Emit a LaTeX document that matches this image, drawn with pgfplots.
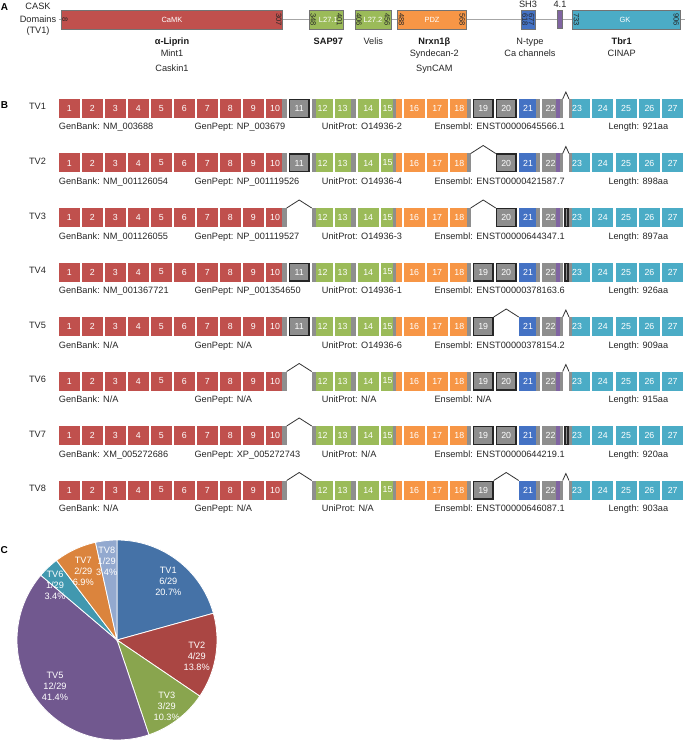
\documentclass[border=0pt]{standalone}
\usepackage{pgfplots}
\pgfplotsset{compat=1.18}
\usepackage{fontspec}
\setmainfont{Liberation Sans}
\definecolor{cred}{HTML}{C0504D}
\definecolor{cgray}{HTML}{8E8E8E}
\definecolor{cgreen}{HTML}{9BBB59}
\definecolor{corange}{HTML}{F79646}
\definecolor{cblue}{HTML}{4472C4}
\definecolor{cpurple}{HTML}{8064A2}
\definecolor{ccyan}{HTML}{4BACC6}
\definecolor{p1}{HTML}{4572A7}
\definecolor{p2}{HTML}{AA4643}
\definecolor{p3}{HTML}{89A54E}
\definecolor{p5}{HTML}{71588F}
\definecolor{p6}{HTML}{4198AF}
\definecolor{p7}{HTML}{DB843D}
\definecolor{p8}{HTML}{93A9CF}
\tikzset{
 lab/.style={font=\fontsize{9.2}{11}\selectfont, inner sep=0pt, text=black!85},
 blab/.style={font=\fontsize{9.2}{11}\selectfont\bfseries, inner sep=0pt, text=black!90},
 exn/.style={font=\fontsize{8.8}{9}\selectfont, inner sep=0pt, text=white},
 dom/.style={font=\fontsize{7.5}{8}\selectfont, inner sep=0pt, text=white},
 rot/.style={font=\fontsize{7.6}{8}\selectfont, inner sep=0pt, rotate=-90, text=black!85},
 pl/.style={font=\fontsize{9.2}{11}\selectfont, inner sep=0pt, text=white, align=center},
 panel/.style={font=\fontsize{10}{11}\selectfont\bfseries, inner sep=0pt},
}
% exon box: x-left, y-centre, colour
\newcommand\ex[3]{%
 \pgfmathsetmacro\xr{#1+21}\pgfmathsetmacro\yt{#2-9.5}\pgfmathsetmacro\yb{#2+9.5}%
 \addplot[fill=#3,draw=none] coordinates {(#1,\yt) (\xr,\yt) (\xr,\yb) (#1,\yb)};}
% strip: x1, x2, y-centre, colour
\newcommand\st[4]{%
 \pgfmathsetmacro\yt{#3-9.5}\pgfmathsetmacro\yb{#3+9.5}%
 \addplot[fill=#4,draw=none] coordinates {(#1,\yt) (#2,\yt) (#2,\yb) (#1,\yb)};}
% boxed exon: x1, x2, y-centre, number
\newcommand\bex[4]{%
 \pgfmathsetmacro\xa{#1+0.65}\pgfmathsetmacro\xb{#2-0.65}\pgfmathsetmacro\yt{#3-8.85}\pgfmathsetmacro\yb{#3+8.85}\pgfmathsetmacro\xc{(#1+#2)/2}%
 \addplot[fill=cgray,draw=black!85,line width=1.3pt] coordinates {(\xa,\yt) (\xb,\yt) (\xb,\yb) (\xa,\yb)} -- cycle;%
 \edef\tmp{\noexpand\node[exn] at (axis cs:\xc,#3) {#4};}\tmp}
% splice caret: x1, x2, y-centre, height
\newcommand\caret[4]{%
 \pgfmathsetmacro\yt{#3-9.5}\pgfmathsetmacro\yp{#3-9.5-#4}\pgfmathsetmacro\xm{(#1+#2)/2}%
 \addplot[draw=black!80,line width=0.8pt] coordinates {(#1,\yt) (\xm,\yp) (#2,\yt)};}
% domain box in panel A
\newcommand\dbox[5]{%
 \addplot[fill=#5,draw=black!55,line width=0.5pt] coordinates {(#1,#3) (#2,#3) (#2,#4) (#1,#4)} -- cycle;}
\newcommand\commonrow[1]{%
\ex{58.7}{#1}{cred}\ex{81.7}{#1}{cred}\ex{104.7}{#1}{cred}%
\ex{127.7}{#1}{cred}\ex{150.7}{#1}{cred}\ex{173.7}{#1}{cred}%
\ex{196.7}{#1}{cred}\ex{219.7}{#1}{cred}\ex{242.7}{#1}{cred}%
\ex{265.7}{#1}{cred}\st{281.7}{286.7}{#1}{cgray}%
\ex{311.7}{#1}{cgreen}\st{311.7}{316}{#1}{cgray}%
\ex{334.7}{#1}{cgreen}\st{351.2}{355.7}{#1}{cgray}%
\ex{357.7}{#1}{cgreen}%
\ex{380.7}{#1}{cgreen}\st{393.3}{396.3}{#1}{cgray}\st{396.3}{401.7}{#1}{corange}%
\ex{403.7}{#1}{corange}\ex{426.7}{#1}{corange}%
\ex{449.7}{#1}{corange}\st{466.7}{470.7}{#1}{cgray}%
\ex{518.7}{#1}{cblue}\st{535.7}{539.7}{#1}{cgray}%
\ex{541.7}{#1}{cgray}\st{556.2}{559.5}{#1}{cpurple}%
\ex{569}{#1}{ccyan}\st{569}{572}{#1}{cgray}%
\ex{592.3}{#1}{ccyan}\ex{615.6}{#1}{ccyan}%
\ex{638.9}{#1}{ccyan}\ex{662.2}{#1}{ccyan}%
\node[exn] at (axis cs:69.2,#1) {1};\node[exn] at (axis cs:92.2,#1) {2};%
\node[exn] at (axis cs:115.2,#1) {3};\node[exn] at (axis cs:138.2,#1) {4};%
\node[exn] at (axis cs:161.2,#1) {5};\node[exn] at (axis cs:184.2,#1) {6};%
\node[exn] at (axis cs:207.2,#1) {7};\node[exn] at (axis cs:230.2,#1) {8};%
\node[exn] at (axis cs:253.2,#1) {9};\node[exn] at (axis cs:275,#1) {10};%
\node[exn] at (axis cs:322.5,#1) {12};\node[exn] at (axis cs:342.5,#1) {13};%
\node[exn] at (axis cs:368.2,#1) {14};\node[exn] at (axis cs:387.5,#1) {15};%
\node[exn] at (axis cs:414.2,#1) {16};\node[exn] at (axis cs:437.2,#1) {17};%
\node[exn] at (axis cs:459.3,#1) {18};\node[exn] at (axis cs:528,#1) {21};%
\node[exn] at (axis cs:550.5,#1) {22};\node[exn] at (axis cs:577,#1) {23};%
\node[exn] at (axis cs:602.8,#1) {24};\node[exn] at (axis cs:626.1,#1) {25};%
\node[exn] at (axis cs:649.4,#1) {26};\node[exn] at (axis cs:672.7,#1) {27};}
\begin{document}
\begin{tikzpicture}
\begin{axis}[width=685pt,height=746pt,scale only axis,
 xmin=0,xmax=685,ymin=0,ymax=746,y dir=reverse,hide axis,clip=false]
\addplot[draw=none] coordinates {(0,0) (685,746)};
% ---------------- Panel A
\node[panel,anchor=base west] at (axis cs:0.8,10.5) {A};
\node[lab,anchor=base] at (axis cs:38,9.8) {CASK};
\node[lab,anchor=base] at (axis cs:38,22.2) {Domains};
\node[lab,anchor=base] at (axis cs:38,34) {(TV1)};
\addplot[draw=black!35,line width=1.3pt] coordinates {(58.5,19.5) (685,19.5)};
\dbox{61}{282.7}{10}{29}{cred}
\dbox{309.3}{343.3}{10}{29}{cgreen}
\dbox{355}{391}{10}{29}{cgreen}
\dbox{397.7}{466}{10}{29}{corange}
\dbox{521}{535.3}{10}{29}{cblue}
\dbox{557.3}{562.3}{10.5}{28.5}{cpurple}
\dbox{572.7}{680}{10}{29}{ccyan}
\node[dom] at (axis cs:172,19.5) {CaMK};
\node[dom] at (axis cs:328.3,19.5) {L27.1};
\node[dom] at (axis cs:373,19.5) {L27.2};
\node[dom] at (axis cs:432,19.5) {PDZ};
\node[dom] at (axis cs:625,19.5) {GK};
\node[rot] at (axis cs:65,19.5) {8};
\node[rot] at (axis cs:278.8,19.5) {307};
\node[rot] at (axis cs:313.2,19.5) {348};
\node[rot] at (axis cs:339.6,19.5) {401};
\node[rot] at (axis cs:358.9,19.5) {406};
\node[rot] at (axis cs:387.2,19.5) {456};
\node[rot] at (axis cs:401.6,19.5) {488};
\node[rot] at (axis cs:462.2,19.5) {568};
\node[rot] at (axis cs:524.9,19.5) {618};
\node[rot] at (axis cs:531.5,19.5) {677};
\node[rot] at (axis cs:576.6,19.5) {733};
\node[rot] at (axis cs:676.2,19.5) {906};
\node[lab,anchor=base] at (axis cs:528,7.6) {SH3};
\node[lab,anchor=base] at (axis cs:560,7.6) {4.1};
\node[blab,anchor=base] at (axis cs:172,44.5) {α-Liprin};
\node[lab,anchor=base] at (axis cs:172,56.8) {Mint1};
\node[lab,anchor=base] at (axis cs:172,71.6) {Caskin1};
\node[blab,anchor=base] at (axis cs:328.3,44.5) {SAP97};
\node[lab,anchor=base] at (axis cs:373.3,44.5) {Velis};
\node[blab,anchor=base] at (axis cs:434.3,44.5) {Nrxn1β};
\node[lab,anchor=base] at (axis cs:434.3,56.8) {Syndecan-2};
\node[lab,anchor=base] at (axis cs:434.3,71.6) {SynCAM};
\node[lab,anchor=base] at (axis cs:530,44.5) {N-type};
\node[lab,anchor=base] at (axis cs:530,56.8) {Ca channels};
\node[blab,anchor=base] at (axis cs:621.7,44.5) {Tbr1};
\node[lab,anchor=base] at (axis cs:621.7,56.8) {CINAP};
% ---------------- Panel B
\node[panel,anchor=base west] at (axis cs:0.8,109) {B};
% TV1
\commonrow{108.5}
\bex{288.7}{309.7}{108.5}{11}\bex{472.7}{493.7}{108.5}{19}\bex{495.7}{516.7}{108.5}{20}
\caret{562.7}{569}{108.5}{7}
% TV2
\commonrow{163}
\bex{288.7}{309.7}{163}{11}\caret{470.7}{495.7}{163}{8}\bex{495.7}{516.7}{163}{20}
\caret{562.7}{569}{163}{7}
% TV3
\commonrow{217.5}
\caret{286.7}{311.7}{217.5}{8}\caret{470.7}{495.7}{217.5}{8}\bex{495.7}{516.7}{217.5}{20}
\bex{564.2}{568.6}{217.5}{}
% TV4
\commonrow{272}
\bex{288.7}{309.7}{272}{11}\bex{472.7}{493.7}{272}{19}\bex{495.7}{516.7}{272}{20}
\bex{564.2}{568.6}{272}{}
% TV5
\commonrow{326.5}
\bex{288.7}{309.7}{326.5}{11}\bex{472.7}{493.7}{326.5}{19}\caret{493.7}{518.7}{326.5}{8}
\caret{562.7}{569}{326.5}{7}
% TV6
\commonrow{381}
\caret{286.7}{311.7}{381}{8}\bex{472.7}{493.7}{381}{19}\bex{495.7}{516.7}{381}{20}
\caret{562.7}{569}{381}{7}
% TV7
\commonrow{435.5}
\caret{286.7}{311.7}{435.5}{8}\bex{472.7}{493.7}{435.5}{19}\bex{495.7}{516.7}{435.5}{20}
\bex{564.2}{568.6}{435.5}{}
% TV8
\commonrow{490}
\caret{286.7}{311.7}{490}{8}\bex{472.7}{493.7}{490}{19}\caret{493.7}{518.7}{490}{8}
\caret{562.7}{569}{490}{7}
% row labels and accession texts
\node[lab,anchor=base] at (axis cs:37.5,110) {TV1};
\node[lab,anchor=base west] at (axis cs:58.7,130) {GenBank: NM\_003688};
\node[lab,anchor=base west] at (axis cs:194.3,130) {GenPept: NP\_003679};
\node[lab,anchor=base west] at (axis cs:321.7,130) {UnitProt: O14936-2};
\node[lab,anchor=base west] at (axis cs:434.3,130) {Ensembl: ENST00000645566.1};
\node[lab,anchor=base west] at (axis cs:608.3,130) {Length: 921aa};
\node[lab,anchor=base] at (axis cs:37.5,164.5) {TV2};
\node[lab,anchor=base west] at (axis cs:58.7,184.5) {GenBank: NM\_001126054};
\node[lab,anchor=base west] at (axis cs:194.3,184.5) {GenPept: NP\_001119526};
\node[lab,anchor=base west] at (axis cs:321.7,184.5) {UnitProt: O14936-4};
\node[lab,anchor=base west] at (axis cs:434.3,184.5) {Ensembl: ENST00000421587.7};
\node[lab,anchor=base west] at (axis cs:608.3,184.5) {Length: 898aa};
\node[lab,anchor=base] at (axis cs:37.5,219) {TV3};
\node[lab,anchor=base west] at (axis cs:58.7,239) {GenBank: NM\_001126055};
\node[lab,anchor=base west] at (axis cs:194.3,239) {GenPept: NP\_001119527};
\node[lab,anchor=base west] at (axis cs:321.7,239) {UnitProt: O14936-3};
\node[lab,anchor=base west] at (axis cs:434.3,239) {Ensembl: ENST00000644347.1};
\node[lab,anchor=base west] at (axis cs:608.3,239) {Length: 897aa};
\node[lab,anchor=base] at (axis cs:37.5,273.5) {TV4};
\node[lab,anchor=base west] at (axis cs:58.7,293.5) {GenBank: NM\_001367721};
\node[lab,anchor=base west] at (axis cs:194.3,293.5) {GenPept: NP\_001354650};
\node[lab,anchor=base west] at (axis cs:321.7,293.5) {UnitProt: O14936-1};
\node[lab,anchor=base west] at (axis cs:434.3,293.5) {Ensembl: ENST00000378163.6};
\node[lab,anchor=base west] at (axis cs:608.3,293.5) {Length: 926aa};
\node[lab,anchor=base] at (axis cs:37.5,328) {TV5};
\node[lab,anchor=base west] at (axis cs:58.7,348) {GenBank: N/A};
\node[lab,anchor=base west] at (axis cs:194.3,348) {GenPept: N/A};
\node[lab,anchor=base west] at (axis cs:321.7,348) {UnitProt: O14936-6};
\node[lab,anchor=base west] at (axis cs:434.3,348) {Ensembl: ENST00000378154.2};
\node[lab,anchor=base west] at (axis cs:608.3,348) {Length: 909aa};
\node[lab,anchor=base] at (axis cs:37.5,382.5) {TV6};
\node[lab,anchor=base west] at (axis cs:58.7,402.5) {GenBank: N/A};
\node[lab,anchor=base west] at (axis cs:194.3,402.5) {GenPept: N/A};
\node[lab,anchor=base west] at (axis cs:321.7,402.5) {UnitProt: N/A};
\node[lab,anchor=base west] at (axis cs:434.3,402.5) {Ensembl: N/A};
\node[lab,anchor=base west] at (axis cs:608.3,402.5) {Length: 915aa};
\node[lab,anchor=base] at (axis cs:37.5,437) {TV7};
\node[lab,anchor=base west] at (axis cs:58.7,457) {GenBank: XM\_005272686};
\node[lab,anchor=base west] at (axis cs:194.3,457) {GenPept: XP\_005272743};
\node[lab,anchor=base west] at (axis cs:321.7,457) {UnitProt: N/A};
\node[lab,anchor=base west] at (axis cs:434.3,457) {Ensembl: ENST00000644219.1};
\node[lab,anchor=base west] at (axis cs:608.3,457) {Length: 920aa};
\node[lab,anchor=base] at (axis cs:37.5,491.5) {TV8};
\node[lab,anchor=base west] at (axis cs:58.7,511.5) {GenBank: N/A};
\node[lab,anchor=base west] at (axis cs:194.3,511.5) {GenPept: N/A};
\node[lab,anchor=base west] at (axis cs:321.7,511.5) {UniProt: N/A};
\node[lab,anchor=base west] at (axis cs:434.3,511.5) {Ensembl: ENST00000646087.1};
\node[lab,anchor=base west] at (axis cs:608.3,511.5) {Length: 903aa};
% ---------------- Panel C: pie of 29 clones (TV1 6, TV2 4, TV3 3, TV4 0, TV5 12, TV6 1, TV7 2, TV8 1)
\node[panel,anchor=base west] at (axis cs:0.5,553) {C};
\addplot[fill=p1,draw=white,line width=0.8pt,domain=15.52:90,samples=40] ({117+100*cos(x)},{640-100*sin(x)}) -- (117,640) -- cycle;
\addplot[fill=p2,draw=white,line width=0.8pt,domain=-34.14:15.52,samples=30] ({117+100*cos(x)},{640-100*sin(x)}) -- (117,640) -- cycle;
\addplot[fill=p3,draw=white,line width=0.8pt,domain=-71.38:-34.14,samples=25] ({117+100*cos(x)},{640-100*sin(x)}) -- (117,640) -- cycle;
\addplot[fill=p5,draw=white,line width=0.8pt,domain=-220.34:-71.38,samples=70] ({117+100*cos(x)},{640-100*sin(x)}) -- (117,640) -- cycle;
\addplot[fill=p6,draw=white,line width=0.8pt,domain=-232.76:-220.34,samples=10] ({117+100*cos(x)},{640-100*sin(x)}) -- (117,640) -- cycle;
\addplot[fill=p7,draw=white,line width=0.8pt,domain=-257.59:-232.76,samples=15] ({117+100*cos(x)},{640-100*sin(x)}) -- (117,640) -- cycle;
\addplot[fill=p8,draw=white,line width=0.8pt,domain=-270:-257.59,samples=10] ({117+100*cos(x)},{640-100*sin(x)}) -- (117,640) -- cycle;
\node[pl] at (axis cs:168.3,581.7) {TV1\\6/29\\20.7\%};
\node[pl] at (axis cs:196.7,656.7) {TV2\\4/29\\13.8\%};
\node[pl] at (axis cs:166.7,706.7) {TV3\\3/29\\10.3\%};
\node[pl] at (axis cs:55,686.7) {TV5\\12/29\\41.4\%};
\node[pl] at (axis cs:55,585) {TV6\\1/29\\3.4\%};
\node[pl] at (axis cs:83.3,571.7) {TV7\\2/29\\6.9\%};
\node[pl] at (axis cs:106.7,561.7) {TV8\\1/29\\3.4\%};
\end{axis}
\end{tikzpicture}
\end{document}
